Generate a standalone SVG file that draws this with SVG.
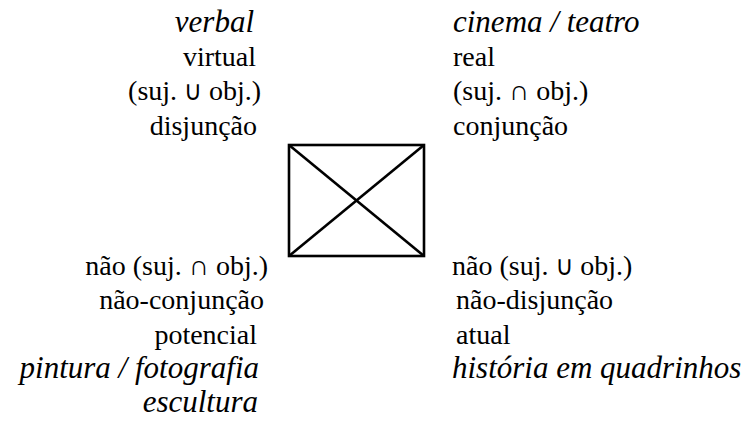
<svg xmlns="http://www.w3.org/2000/svg" width="752" height="421" viewBox="0 0 752 421">
<style>
text.t{font-family:'Liberation Serif',serif !important;font-size:28px;fill:#000}
text.i{font-style:italic;font-size:31px}
tspan.u{font-family:'DejaVu Sans Condensed','DejaVu Sans',sans-serif !important;font-size:27px}
.box{fill:none;stroke:#000;stroke-width:2.6}
</style>
<rect width="752" height="421" fill="#fff"/>
<g id="connectors">
<rect class="box" x="289" y="145" width="135" height="111"/>
<line class="box" x1="289" y1="145" x2="424" y2="256"/>
<line class="box" x1="424" y1="145" x2="289" y2="256"/>
</g>
<g id="s1">
<text class="t i" style="font-family:'Liberation Serif',serif !important" text-anchor="end" x="254" y="32">verbal</text>
<text class="t" style="font-family:'Liberation Serif',serif !important" text-anchor="end" x="256" y="66">virtual</text>
<text class="t" style="font-family:'Liberation Serif',serif !important" text-anchor="end" x="261" y="100">(suj. <tspan class="u" style="font-family:'DejaVu Sans Condensed','DejaVu Sans',sans-serif !important">∪</tspan> obj.)</text>
<text class="t" style="font-family:'Liberation Serif',serif !important" text-anchor="end" x="257" y="135">disjunção</text>
</g>
<g id="s2">
<text class="t i" style="font-family:'Liberation Serif',serif !important" x="453" y="32">cinema / teatro</text>
<text class="t" style="font-family:'Liberation Serif',serif !important" x="453" y="66">real</text>
<text class="t" style="font-family:'Liberation Serif',serif !important" x="453" y="100">(suj. ∩ obj.)</text>
<text class="t" style="font-family:'Liberation Serif',serif !important" x="453" y="135">conjunção</text>
</g>
<g id="nons2">
<text class="t" style="font-family:'Liberation Serif',serif !important" text-anchor="end" x="268" y="275">não (suj. ∩ obj.)</text>
<text class="t" style="font-family:'Liberation Serif',serif !important" text-anchor="end" x="264" y="309">não-conjunção</text>
<text class="t" style="font-family:'Liberation Serif',serif !important" text-anchor="end" x="257" y="344">potencial</text>
<text class="t i" style="font-family:'Liberation Serif',serif !important" text-anchor="end" x="259" y="378">pintura / fotografia</text>
<text class="t i" style="font-family:'Liberation Serif',serif !important" text-anchor="end" x="258" y="412">escultura</text>
</g>
<g id="nons1">
<text class="t" style="font-family:'Liberation Serif',serif !important" x="452" y="275">não (suj. <tspan class="u" style="font-family:'DejaVu Sans Condensed','DejaVu Sans',sans-serif !important">∪</tspan> obj.)</text>
<text class="t" style="font-family:'Liberation Serif',serif !important" x="456" y="309">não-disjunção</text>
<text class="t" style="font-family:'Liberation Serif',serif !important" x="456" y="344">atual</text>
<text class="t i" style="font-family:'Liberation Serif',serif !important" x="452" y="378">história em quadrinhos</text>
</g>
</svg>
